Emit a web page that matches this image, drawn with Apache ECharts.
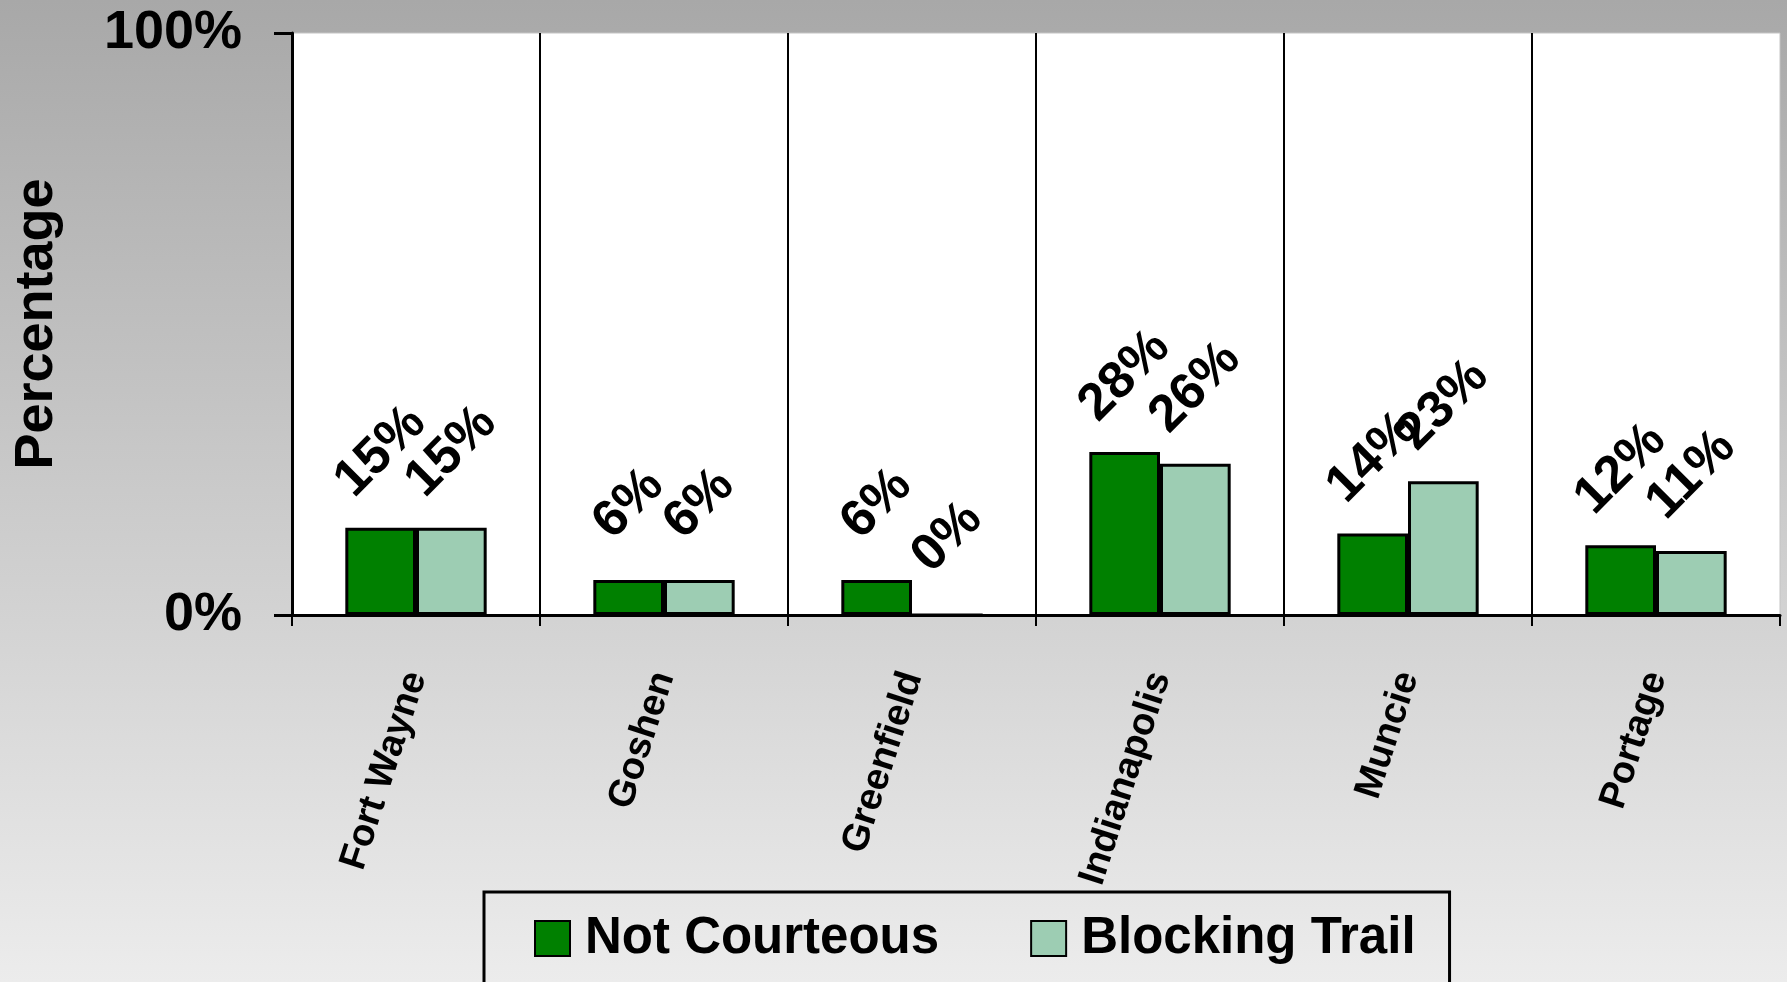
<!DOCTYPE html>
<html>
<head>
<meta charset="utf-8">
<title>Percentage by city</title>
<script src="https://cdn.jsdelivr.net/npm/echarts@6/dist/echarts.min.js"></script>
<style>
  html, body { margin: 0; padding: 0; }
  #chart { width: 1787px; height: 982px; }
</style>
</head>
<body>
<div id="chart"></div>
<script>
// City categories along the x axis
const categories = ['Fort Wayne', 'Goshen', 'Greenfield', 'Indianapolis', 'Muncie', 'Portage'];
// Percent of responses per city
const notCourteous = [15, 6, 6, 28, 14, 12];
const blockingTrail = [15, 6, 0, 26, 23, 11];
// Value axis tick labels
const yTicks = [0, 100];

const FONT = '"Liberation Sans", Arial, sans-serif';

const chart = echarts.init(document.getElementById('chart'));

function barLabel() {
  return {
    show: true,
    position: 'top',
    distance: 76,
    rotate: 45,
    align: 'center',
    verticalAlign: 'middle',
    formatter: '{c}%',
    color: '#000',
    fontFamily: FONT,
    fontWeight: 'bold',
    fontSize: 52
  };
}

chart.setOption({
  backgroundColor: new echarts.graphic.LinearGradient(0, 0, 0, 1, [
    { offset: 0, color: '#a8a8a8' },
    { offset: 1, color: '#ececec' }
  ]),
  animation: false,
  grid: {
    left: 292, right: 7, top: 33, bottom: 367,
    show: true,
    backgroundColor: '#ffffff',
    borderColor: '#c4c4c4',
    borderWidth: 1
  },
  legend: {
    left: 484,
    top: 892,
    padding: [21, 34, 40, 50],
    itemGap: 91,
    itemWidth: 35,
    itemHeight: 35,
    icon: 'rect',
    borderColor: '#000',
    borderWidth: 3,
    textStyle: {
      color: '#000',
      fontFamily: FONT,
      fontWeight: 'bold',
      fontSize: 51,
      padding: [0, 0, 0, 10]
    },
    data: ['Not Courteous', 'Blocking Trail']
  },
  xAxis: {
    type: 'category',
    data: categories,
    axisLine: { show: true, lineStyle: { color: '#000', width: 3 } },
    axisTick: { show: true, length: 11, lineStyle: { color: '#000', width: 2 } },
    splitLine: { show: true, showMaxLine: false, lineStyle: { color: '#000', width: 2 } },
    axisLabel: {
      rotate: 72,
      margin: 58,
      color: '#000',
      fontFamily: FONT,
      fontWeight: 'bold',
      fontSize: 38
    }
  },
  yAxis: {
    type: 'value',
    min: yTicks[0],
    max: yTicks[yTicks.length - 1],
    interval: yTicks[1] - yTicks[0],
    name: 'Percentage',
    nameLocation: 'middle',
    nameRotate: 90,
    nameGap: 228,
    nameTextStyle: {
      color: '#000',
      fontFamily: FONT,
      fontWeight: 'bold',
      fontSize: 54
    },
    axisLine: { show: true, lineStyle: { color: '#000', width: 3 } },
    axisTick: { show: true, length: 18, lineStyle: { color: '#000', width: 3 } },
    splitLine: { show: false },
    axisLabel: {
      margin: 50,
      formatter: '{value}%',
      color: '#000',
      fontFamily: FONT,
      fontWeight: 'bold',
      fontSize: 54
    }
  },
  series: [
    {
      name: 'Not Courteous',
      type: 'bar',
      data: notCourteous,
      barGap: '0%',
      barCategoryGap: '43%',
      itemStyle: { color: '#008000', borderColor: '#000', borderWidth: 3 },
      label: barLabel()
    },
    {
      name: 'Blocking Trail',
      type: 'bar',
      data: blockingTrail,
      barGap: '0%',
      barCategoryGap: '43%',
      itemStyle: { color: '#9dcdb3', borderColor: '#000', borderWidth: 3 },
      label: barLabel()
    }
  ]
});
</script>
</body>
</html>
